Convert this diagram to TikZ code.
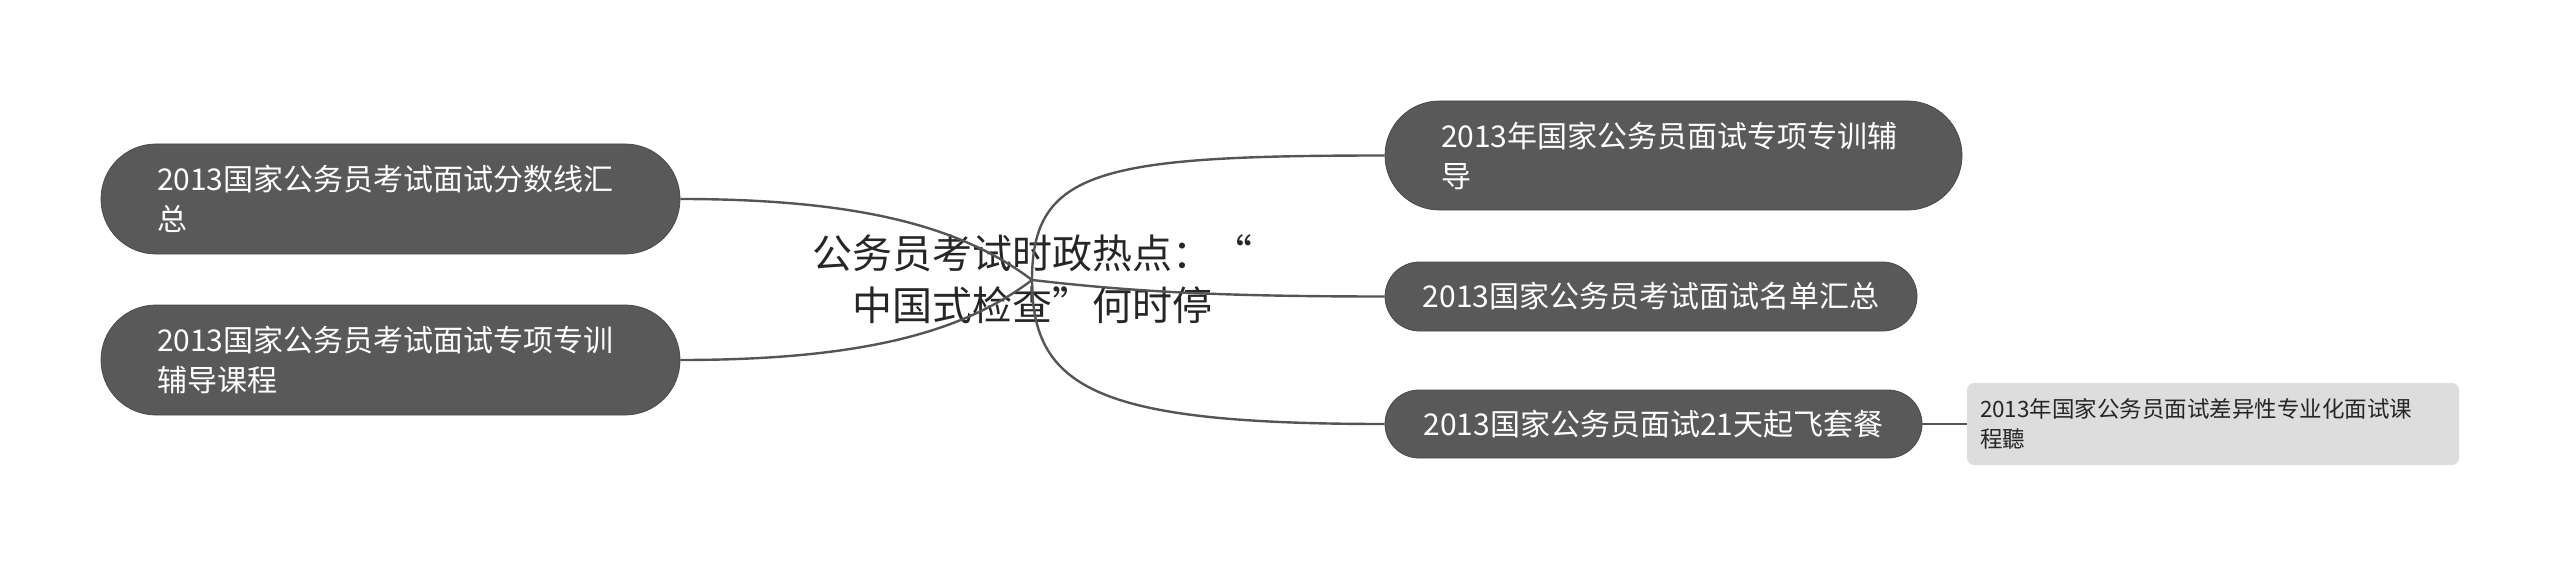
\documentclass[tikz,border=0pt]{standalone}
\usepackage{fontspec}
\setmainfont{Noto Sans CJK SC}
\usetikzlibrary{shapes.misc}
\definecolor{darkfill}{HTML}{595959}
\definecolor{darkedge}{HTML}{4A4A4A}
\definecolor{linec}{HTML}{555555}
\definecolor{leaffill}{HTML}{DDDDDD}
\definecolor{maintext}{HTML}{262626}
\begin{document}
\begin{tikzpicture}[x=0.5pt,y=-0.5pt,
  darkbox/.style={rounded rectangle, fill=darkfill, draw=darkedge, line width=0.4pt, inner sep=0pt},
  darktext/.style={text=white, font=\fontsize{15}{20}\selectfont, align=left, inner sep=0pt, anchor=west},
  darksingle/.style={darkbox, text=white, font=\fontsize{15}{20}\selectfont},
  leafbox/.style={rectangle, rounded corners=3.5pt, fill=leaffill, inner sep=0pt},
  leaftext/.style={text=maintext, font=\fontsize{11.25}{15}\selectfont, align=left, inner sep=0pt, anchor=west},
  centertext/.style={text=maintext, font=\fontsize{20}{26}\selectfont, align=center, inner sep=0pt},
  conn/.style={draw=linec, line width=1.2pt}
]
\useasboundingbox (0,0) rectangle (2560,567);

% central topic
\node[centertext] (c) at (1032,279) {公务员考试时政热点：“\\中国式检查”何时停};
\coordinate (j) at (1032,280);

% left branches
\node[darkbox, minimum width=289.5pt, minimum height=55pt] (l1) at (390.5,199) {};
\node[darktext] (l1t) at ([xshift=28pt]l1.west) {2013国家公务员考试面试分数线汇\\总};
\node[darkbox, minimum width=289.5pt, minimum height=55pt] (l2) at (390.5,360) {};
\node[darktext] (l2t) at ([xshift=28pt]l2.west) {2013国家公务员考试面试专项专训\\辅导课程};

% right branches
\node[darkbox, minimum width=288.5pt, minimum height=54.5pt] (r1) at (1673.5,155.5) {};
\node[darktext] (r1t) at ([xshift=28pt]r1.west) {2013年国家公务员面试专项专训辅\\导};
\node[darksingle, minimum width=266pt, minimum height=34.5pt] (r2) at (1651,296.5) {2013国家公务员考试面试名单汇总};
\node[darksingle, minimum width=268.5pt, minimum height=34pt] (r3) at (1653.5,424) {2013国家公务员面试21天起飞套餐};

% leaf
\node[leafbox, minimum width=246pt, minimum height=41pt] (lf) at (2213,424) {};
\node[leaftext] (lft) at ([xshift=6.5pt]lf.west) {2013年国家公务员面试差异性专业化面试课\\程聽};

% connectors
\draw[conn] (l1.east) .. controls (860,199) and (962,227) .. (j);
\draw[conn] (l2.east) .. controls (860,360) and (962,333) .. (j);
\draw[conn] (j) .. controls (1032,170) and (1100,155.5) .. (r1.west);
\draw[conn] (j) .. controls (1120,290) and (1200,296.5) .. (r2.west);
\draw[conn] (j) .. controls (1032,390) and (1100,424) .. (r3.west);
\draw[conn] (r3.east) -- (lf.west);
\end{tikzpicture}
\end{document}
